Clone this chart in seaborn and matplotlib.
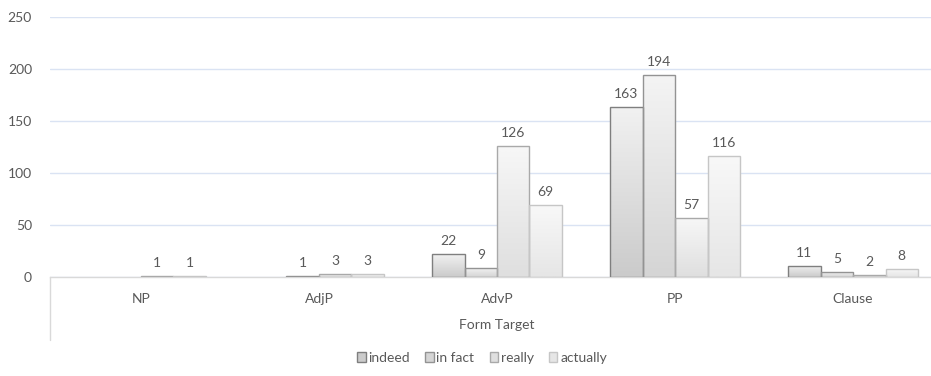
import numpy as np
import pandas as pd
import matplotlib
matplotlib.use("Agg")
import matplotlib.pyplot as plt
from matplotlib.patches import Patch
from matplotlib.lines import Line2D
from matplotlib.colors import LinearSegmentedColormap
import seaborn as sns

# Counts of each adverb by form of its target
categories = ["NP", "AdjP", "AdvP", "PP", "Clause"]
series = ["indeed", "in fact", "really", "actually"]
indeed = [np.nan, np.nan, 22, 163, 11]
in_fact = [np.nan, 1, 9, 194, 5]
really = [1, 3, 126, 57, 2]
actually = [1, 3, 69, 116, 8]
y_ticks = [0, 50, 100, 150, 200, 250]
x_title = "Form Target"

df = pd.DataFrame({
    "Form": categories * 4,
    "Adverb": [s for s in series for _ in categories],
    "Count": indeed + in_fact + really + actually,
})

# gradient (top, bottom) and outline per series
grad_top = ["#f1f1f1", "#f4f4f4", "#f7f7f7", "#f8f8f8"]
grad_bot = ["#cbcbcb", "#d5d5d5", "#dfdfdf", "#e6e6e6"]
edges = ["#7f7f7f", "#939393", "#a9a9a9", "#c6c6c6"]
text_col = "#595959"
fs = 10

sns.set_theme(style="white")
plt.rcParams["font.family"] = ["Lato", "DejaVu Sans"]

W, H = 931, 376
fig = plt.figure(figsize=(W / 100, H / 100), dpi=100)
left, right = 50 / W, 1.0
bottom, top = (H - 277.3) / H, (H - 16.7) / H
ax = fig.add_axes([left, bottom, right - left, top - bottom])

sns.barplot(data=df, x="Form", y="Count", hue="Adverb", order=categories,
            hue_order=series, width=0.73, dodge=True, legend=False,
            errorbar=None, ax=ax, linewidth=1.0)

for i, cont in enumerate(ax.containers):
    cmap = LinearSegmentedColormap.from_list(f"g{i}", [grad_bot[i], grad_top[i]])
    grad = np.linspace(1, 0, 64).reshape(-1, 1)
    for bar in cont:
        h = bar.get_height()
        bar.set_edgecolor(edges[i])
        bar.set_facecolor("none")
        bar.set_zorder(3)
        if not np.isfinite(h) or h == 0:
            bar.set_visible(False)
            continue
        x0, w = bar.get_x(), bar.get_width()
        im = ax.imshow(grad, extent=[x0, x0 + w, 0, h], aspect="auto",
                       cmap=cmap, vmin=0, vmax=1, zorder=2, interpolation="bilinear")
        im.set_clip_path(bar)
    ax.bar_label(cont, labels=["" if not np.isfinite(v) else f"{v:g}" for v in cont.datavalues],
                 padding=5, color=text_col, fontsize=fs)

ax.set_xlim(-0.511, 4.438)
ax.set_ylim(0, 250)
ax.set_yticks(y_ticks)
ax.yaxis.grid(True, color="#dae3f3", linewidth=1.0)
ax.set_axisbelow(True)
ax.tick_params(axis="y", length=0, pad=13, labelcolor=text_col, labelsize=fs)
ax.tick_params(axis="x", length=0, pad=11, labelcolor=text_col, labelsize=fs)
ax.set_xlabel("")
ax.set_ylabel("")
for s in ["left", "right", "top"]:
    ax.spines[s].set_visible(False)
ax.spines["bottom"].set_color("#d9d9d9")
ax.spines["bottom"].set_linewidth(1.0)

# outer category level
ax.text(2, -48 / 260.6, x_title, transform=ax.get_xaxis_transform(),
        ha="center", va="center", color=text_col, fontsize=fs)
fig.add_artist(Line2D([left, left], [(H - 277.3) / H, (H - 340) / H],
                      color="#d9d9d9", linewidth=1.0))

handles = [Patch(facecolor=grad_bot[i], edgecolor=edges[i], linewidth=1.0, label=s)
           for i, s in enumerate(series)]
fig.legend(handles=handles, loc="center", bbox_to_anchor=(482 / W, (H - 358) / H),
           ncol=4, frameon=False, handlelength=0.6, handleheight=0.75,
           handletextpad=0.2, columnspacing=1.1, labelcolor=text_col, fontsize=fs)

fig.savefig("out.png", dpi=100, facecolor="white")
